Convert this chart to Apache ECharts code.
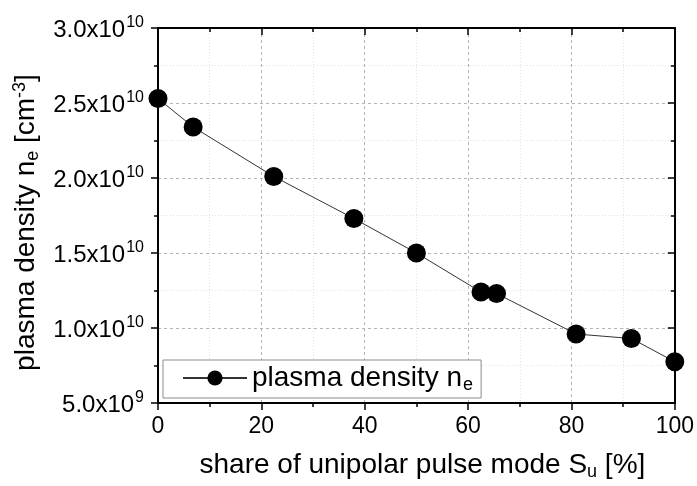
<!DOCTYPE html>
<html>
<head>
<meta charset="utf-8">
<script src="https://cdn.jsdelivr.net/npm/echarts@6/dist/echarts.min.js"></script>
<style>
  html, body { margin: 0; padding: 0; background: #fff; }
  #chart { width: 697px; height: 486px; }
</style>
</head>
<body>
<div id="chart"></div>
<script>
// Share of unipolar pulse mode S_u [%]
const unipolarShare = [0, 6.8, 22.4, 37.9, 50.0, 62.5, 65.5, 80.9, 91.6, 100];
// Plasma density n_e [cm^-3]
const plasmaDensity = [2.53e10, 2.34e10, 2.01e10, 1.73e10, 1.50e10, 1.24e10, 1.23e10, 0.96e10, 0.93e10, 0.775e10];
// Axis ranges and tick steps
const xTicks = [0, 20, 40, 60, 80, 100];
const yTicks = [5e9, 1.0e10, 1.5e10, 2.0e10, 2.5e10, 3.0e10];

const FONT = 'Liberation Sans, Arial, sans-serif';
const TITLE_SIZE = 28;
const TICK_SIZE = 23;
const YTICK_SIZE = 24;

// "2.5x10^10" style labels with a raised exponent
function sciLabel(v) {
  const exp = Math.floor(Math.log10(v) + 1e-9);
  const mant = (v / Math.pow(10, exp)).toFixed(1);
  return '{m|' + mant + 'x10}{e|' + exp + '}';
}

const chart = echarts.init(document.getElementById('chart'), null, { renderer: 'canvas' });

const axisLineStyle = { color: '#000', width: 2 };
const tickStyle = { color: '#000', width: 1.5 };
const majorGrid = { show: true, lineStyle: { color: '#b4b4b4', width: 1, type: [3, 3] } };
const minorGrid = { show: true, lineStyle: { color: '#e2e2e2', width: 1, type: [1, 2] } };

const option = {
  animation: false,
  backgroundColor: '#fff',
  grid: { left: 158, right: 22, top: 28, bottom: 81, containLabel: false },
  legend: {
    left: 163, top: 360,
    padding: [4, 8, 4, 19],
    backgroundColor: '#fff',
    borderColor: '#8c8c8c', borderWidth: 1, borderRadius: 0,
    itemWidth: 64, itemHeight: 19,
    data: ['plasma density'],
    formatter: () => '{a|plasma density n}{s|e}',
    textStyle: {
      fontFamily: FONT, fontSize: TITLE_SIZE, color: '#000',
      rich: {
        a: { fontFamily: FONT, fontSize: TITLE_SIZE, color: '#000' },
        s: { fontFamily: FONT, fontSize: 18, color: '#000', padding: [14, 0, 0, 1] }
      }
    }
  },
  xAxis: [{
    type: 'value',
    min: xTicks[0], max: xTicks[xTicks.length - 1], interval: 20,
    position: 'bottom',
    name: '{a|share of unipolar pulse mode S}{s|u}{a| [%]}',
    nameLocation: 'middle', nameGap: 46,
    nameTextStyle: {
      fontFamily: FONT, fontSize: TITLE_SIZE, color: '#000',
      padding: [0, 0, 0, 12],
      rich: {
        a: { fontFamily: FONT, fontSize: TITLE_SIZE, color: '#000' },
        s: { fontFamily: FONT, fontSize: 18, color: '#000', padding: [14, 0, 0, 0] }
      }
    },
    axisLine: { show: true, onZero: false, lineStyle: axisLineStyle },
    axisTick: { show: true, inside: false, length: 7, lineStyle: tickStyle },
    minorTick: { show: true, splitNumber: 2, length: 4, lineStyle: tickStyle },
    axisLabel: { fontFamily: FONT, fontSize: TICK_SIZE, color: '#000', margin: 12 },
    splitLine: majorGrid,
    minorSplitLine: minorGrid
  }, {
    type: 'value',
    min: xTicks[0], max: xTicks[xTicks.length - 1], interval: 20,
    position: 'top',
    axisLine: { show: true, onZero: false, lineStyle: axisLineStyle },
    axisTick: { show: true, inside: true, length: 7, lineStyle: tickStyle },
    minorTick: { show: true, splitNumber: 2, length: 4, lineStyle: tickStyle },
    axisLabel: { show: false },
    splitLine: { show: false }
  }],
  yAxis: [{
    type: 'value',
    min: yTicks[0], max: yTicks[yTicks.length - 1], interval: 5e9,
    position: 'left',
    name: '{a|plasma density n}{s|e}{a| [cm}{p|-3}{a|]}',
    nameLocation: 'middle', nameGap: 110, nameRotate: 90,
    nameTextStyle: {
      fontFamily: FONT, fontSize: TITLE_SIZE, color: '#000',
      padding: [0, 14, 0, 0],
      rich: {
        a: { fontFamily: FONT, fontSize: TITLE_SIZE, color: '#000' },
        s: { fontFamily: FONT, fontSize: 18, color: '#000', padding: [14, 0, 0, 0] },
        p: { fontFamily: FONT, fontSize: 18, color: '#000', padding: [0, 0, 13, 0] }
      }
    },
    axisLine: { show: true, onZero: false, lineStyle: axisLineStyle },
    axisTick: { show: true, inside: false, length: 7, lineStyle: tickStyle },
    minorTick: { show: true, splitNumber: 2, length: 4, lineStyle: tickStyle },
    axisLabel: {
      margin: 14,
      fontFamily: FONT, fontSize: YTICK_SIZE, color: '#000',
      formatter: sciLabel,
      rich: {
        m: { fontFamily: FONT, fontSize: YTICK_SIZE, color: '#000', padding: [5, 0, 0, 0] },
        e: { fontFamily: FONT, fontSize: 16, color: '#000', padding: [0, 0, 10, 1] }
      }
    },
    splitLine: majorGrid,
    minorSplitLine: minorGrid
  }, {
    type: 'value',
    min: yTicks[0], max: yTicks[yTicks.length - 1], interval: 5e9,
    position: 'right',
    axisLine: { show: true, onZero: false, lineStyle: axisLineStyle },
    axisTick: { show: true, inside: true, length: 7, lineStyle: tickStyle },
    minorTick: { show: true, splitNumber: 2, length: 4, lineStyle: tickStyle },
    axisLabel: { show: false },
    splitLine: { show: false }
  }],
  series: [{
    name: 'plasma density',
    type: 'line',
    xAxisIndex: 0, yAxisIndex: 0,
    data: unipolarShare.map((x, i) => [x, plasmaDensity[i]]),
    symbol: 'circle',
    symbolSize: 19,
    clip: false,
    itemStyle: { color: '#000' },
    lineStyle: { color: '#333', width: 1, type: 'solid' },
    z: 5
  }]
};

chart.setOption(option);
</script>
</body>
</html>
